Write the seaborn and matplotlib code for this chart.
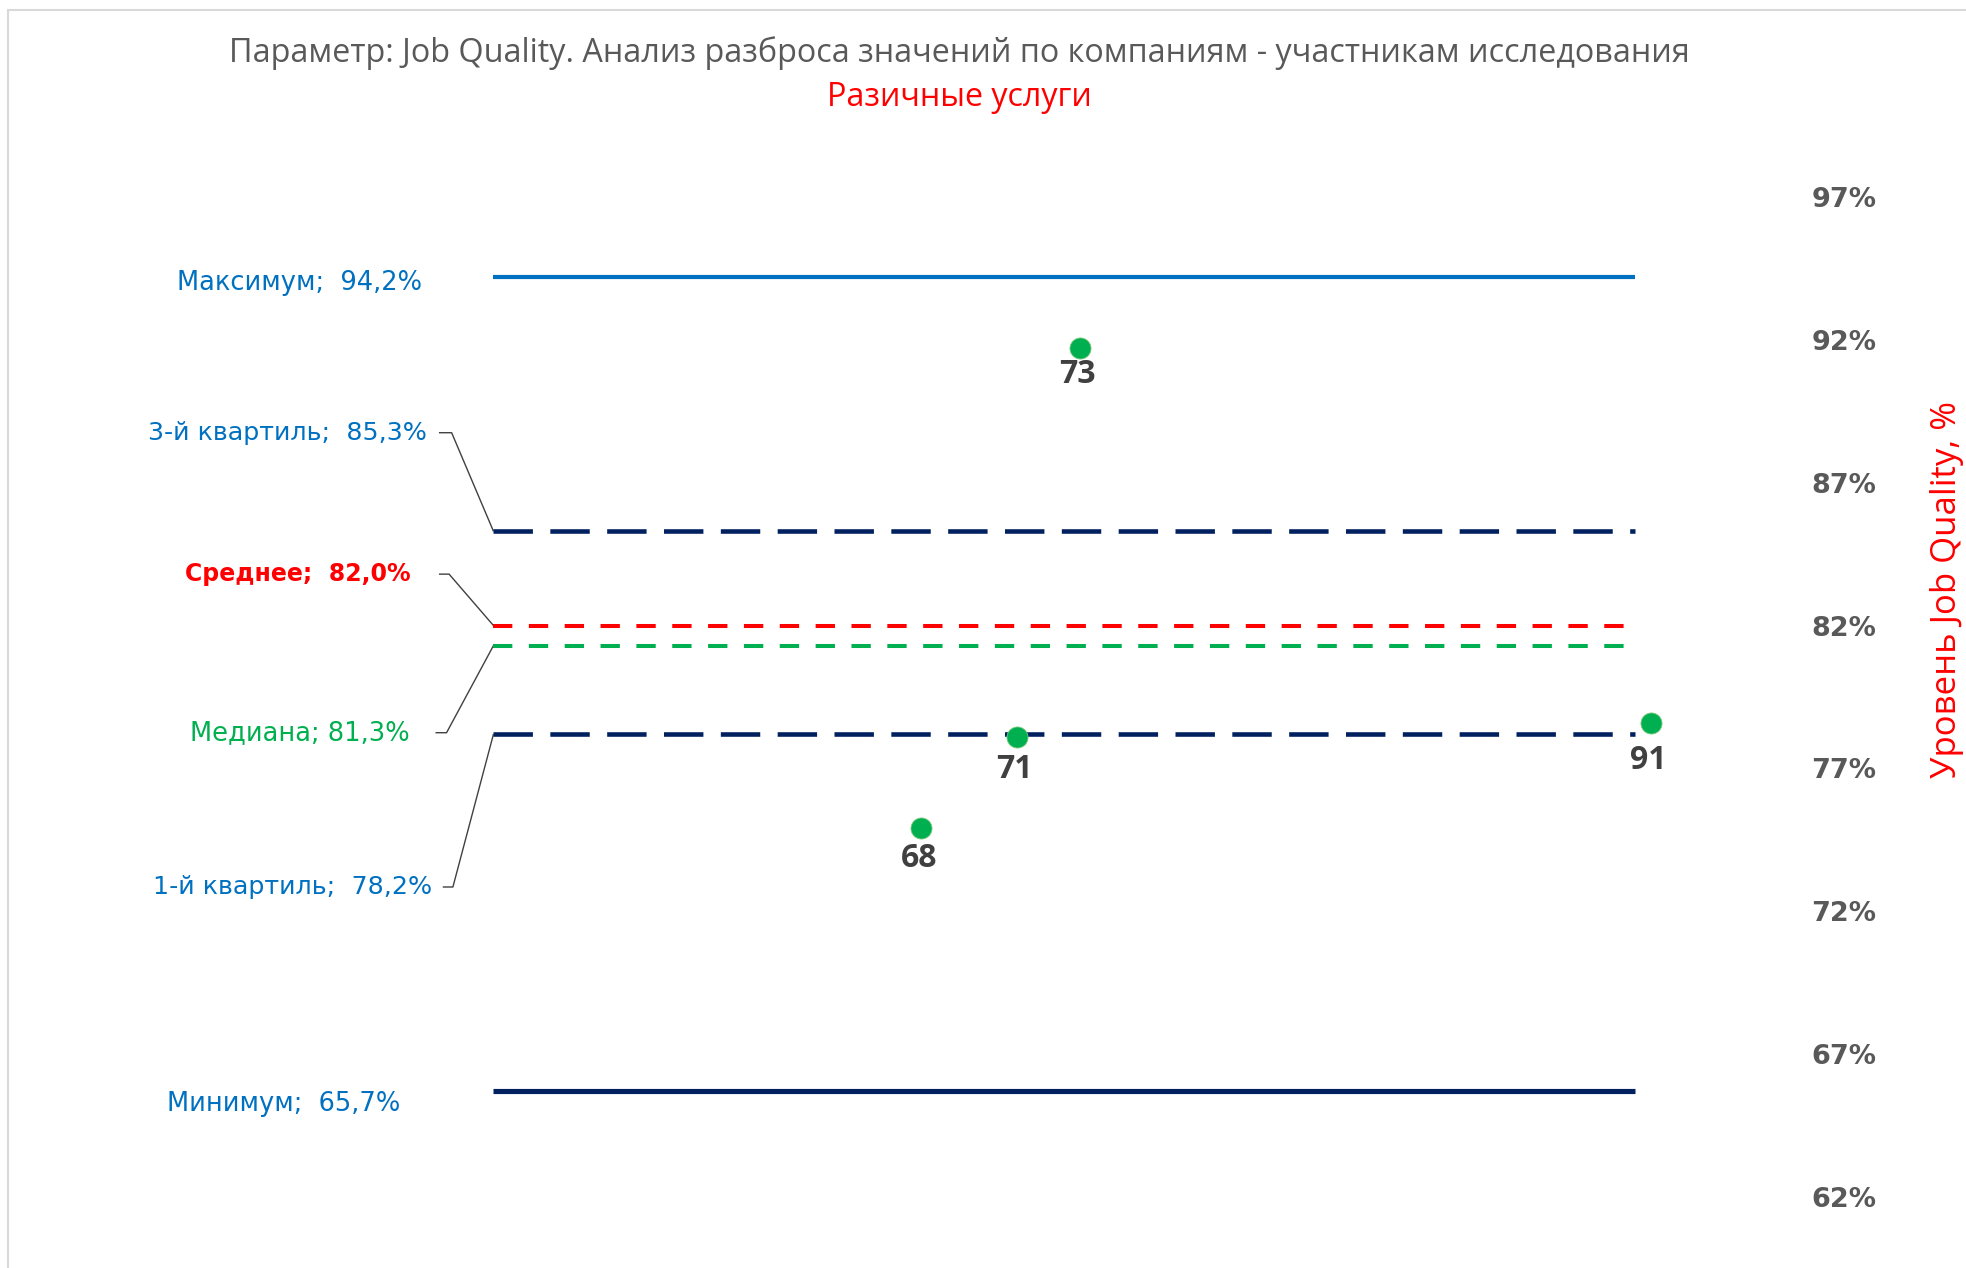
import numpy as np
import pandas as pd
import matplotlib
matplotlib.use("Agg")
import matplotlib.pyplot as plt
from matplotlib.ticker import FuncFormatter, FixedLocator
from matplotlib.patches import Rectangle
import seaborn as sns

# ---- data -------------------------------------------------------------
stat_names = ["Максимум", "3-й квартиль", "Среднее", "Медиана", "1-й квартиль", "Минимум"]
stat_values = [94.2, 85.3, 82.0, 81.3, 78.2, 65.7]
stat_label_sep = [";  ", ";  ", ";  ", "; ", ";  ", ";  "]

company_ids = [68, 71, 73, 91]
company_scores = [74.9, 78.1, 91.7, 78.6]

y_ticks = [62, 67, 72, 77, 82, 87, 92, 97]

title_text = "Параметр: Job Quality. Анализ разброса значений по компаниям - участникам исследования"
subtitle_text = "Разичные услуги"
ylabel_text = "Уровень Job Quality, %"

# ---- styles -----------------------------------------------------------
BLUE = "#0070C0"
NAVY = "#002060"
RED = "#FF0000"
GREEN = "#00B050"
GRAY = "#595959"
DARK = "#404040"

line_styles = [
    dict(color=BLUE, lw=3.0, ls="-"),
    dict(color=NAVY, lw=3.3, ls=(0, (8.6, 3.8))),
    dict(color=RED, lw=2.9, ls=(0, (4.8, 4.1))),
    dict(color=GREEN, lw=2.9, ls=(0, (4.8, 4.1))),
    dict(color=NAVY, lw=3.3, ls=(0, (8.6, 3.8))),
    dict(color=NAVY, lw=3.7, ls="-"),
]
label_styles = [
    dict(color=BLUE, weight="normal", size=18.5),
    dict(color=BLUE, weight="normal", size=18.3),
    dict(color=RED, weight="bold", size=17.0),
    dict(color=GREEN, weight="normal", size=18.5),
    dict(color=BLUE, weight="normal", size=18.3),
    dict(color=BLUE, weight="normal", size=18.5),
]
# label placement (x of right edge, y centre)
label_pos = [(52.25, 94.0), (52.4, 88.75), (51.9, 83.8), (51.85, 78.25), (52.57, 72.85), (51.55, 65.25)]
# leader stub (start, end) in x; None where no leader is drawn
leader_x = [None, (52.78, 53.18), (52.78, 53.10), (52.67, 53.02), (52.90, 53.22), None]

# vertical offset of each point's number label, in points
point_label_dy = [-21.7, -23.5, -19.0, -27.0]

LINE_X0, LINE_X1 = 54.5, 90.5

sns.set_theme(style="white")
plt.rcParams["font.family"] = ["DejaVu Sans"]

W, H = 1966, 1268
fig = plt.figure(figsize=(W / 100, H / 100), dpi=100)
fig.patch.set_facecolor("white")
ax = fig.add_axes([354 / W, 1 - 1197 / H, (1790 - 354) / W, 1000 / H])
ax.set_facecolor("white")

# chart frame
fig.patches.append(Rectangle((8 / W, -0.05), 1.2, 1 - 10 / H + 0.05, transform=fig.transFigure,
                             fill=False, edgecolor="#D9D9D9", lw=1.5, zorder=0))

# summary statistic lines
for val, st in zip(stat_values, line_styles):
    ax.hlines(val, LINE_X0, LINE_X1, colors=st["color"], linewidth=st["lw"],
              linestyles=st["ls"], capstyle="butt", zorder=2)

# statistic labels with leader lines
for name, sep, val, st, (lx, ly), lead in zip(stat_names, stat_label_sep, stat_values,
                                              label_styles, label_pos, leader_x):
    txt = f"{name}{sep}{val:.1f}%".replace(".", ",")
    ax.text(lx, ly, txt, ha="right", va="center", fontsize=st["size"], family="DejaVu Sans",
            color=st["color"], fontweight=st["weight"], clip_on=False)
    if lead is not None:
        ax.plot([lead[0], lead[1], LINE_X0], [ly, ly, val], color=DARK, lw=1.0,
                clip_on=False, zorder=1, solid_capstyle="butt")

# company points
df = pd.DataFrame({"company": company_ids, "score": company_scores})
sns.scatterplot(data=df, x="company", y="score", ax=ax, s=230, color=GREEN,
                edgecolor="#7FC97F", linewidth=0.6, zorder=4, legend=False)
for cid, sc, dy in zip(company_ids, company_scores, point_label_dy):
    ax.annotate(str(cid), (cid, sc), xytext=(-1.5, dy), textcoords="offset points",
                ha="center", va="center", fontsize=23, fontweight="bold",
                family="Open Sans", color=DARK)

ax.set_xlim(50.1, 95.4)
ax.set_ylim(62, 97)
ax.set_xticks([])
ax.set_xlabel("")
ax.yaxis.tick_right()
ax.yaxis.set_major_locator(FixedLocator(y_ticks))
ax.yaxis.set_major_formatter(FuncFormatter(lambda v, p: f"{v:.0f}%"))
ax.tick_params(axis="y", length=0, pad=15.5, labelsize=19.5, labelcolor=GRAY)
for t in ax.get_yticklabels():
    t.set_fontweight("bold")
for sp in ax.spines.values():
    sp.set_visible(False)
ax.set_ylabel("")

fig.text(1947 / W, 1 - 589 / H, ylabel_text, ha="center", va="center", rotation=90,
         fontsize=25, family="Open Sans", color=RED)
fig.text(959 / W, 1 - 53 / H, title_text, ha="center", va="center", fontsize=23.3,
         family="Open Sans", color=GRAY)
fig.text(959 / W, 1 - 98 / H, subtitle_text, ha="center", va="center", fontsize=23.2,
         family="Open Sans", color=RED)

fig.savefig("out.png", dpi=100, facecolor="white")
